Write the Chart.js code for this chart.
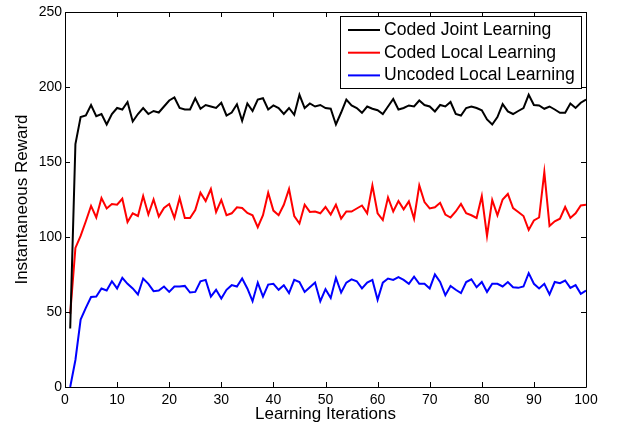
<!DOCTYPE html>
<html>
<head>
<meta charset="utf-8">
<script src="https://cdn.jsdelivr.net/npm/chart.js@4.4.1/dist/chart.umd.min.js"></script>
<style>
html,body{margin:0;padding:0;background:#fff;}
#wrap{width:621px;height:428px;}
</style>
</head>
<body>
<div id="wrap"><canvas id="c" width="621" height="428"></canvas></div>
<script>
const iterations = [1,2,3,4,5,6,7,8,9,10,11,12,13,14,15,16,17,18,19,20,21,22,23,24,25,26,27,28,29,30,31,32,33,34,35,36,37,38,39,40,41,42,43,44,45,46,47,48,49,50,51,52,53,54,55,56,57,58,59,60,61,62,63,64,65,66,67,68,69,70,71,72,73,74,75,76,77,78,79,80,81,82,83,84,85,86,87,88,89,90,91,92,93,94,95,96,97,98,99,100];

const codedJoint = [39,162,180,181,188,180.5,182,175,182,186,185,190,177,182,186,182,184,183,187,191,193,186,185,185,192.5,185.5,188,187,186,189.5,181,183,188.5,177.5,189,184,191.6,192.5,185,187.7,186,182,186,181.5,194.8,186,189,187,188,186,185.5,175,183,191.6,187.7,186,182.8,187,185.5,184.5,182,187,192,185,186,187.7,187,191,188,187,183.7,188,187,190,182,181,186,187,186,184.5,178.4,175,180,188.6,183.7,182,184,186,194.8,188,187.7,185.5,187,185,182.8,182.8,189,186,189.5,191.6];

const codedLocal = [48.8,92.7,100.7,110.5,120.7,113,126,119,122,121.5,125.5,110,115.8,114,127.3,115,125,113.6,119.3,122,112.7,126,112.7,112.7,118,129.5,124,132,116.7,124.7,114.5,115.8,119.8,119.3,116,114.5,106.5,114.5,129.5,117.6,114.5,121.5,132,114,109,121.5,116.7,117,115.8,120,115,121.5,112.2,117,117,119,121,115.8,134.4,115.8,111.3,126.4,117,124,118.4,123.7,112.2,134.4,123.3,119,119.8,122.8,115,113,117,122,115.8,114.5,112.7,127.3,100.7,124.7,114.5,125,128.7,119.3,116.7,114,104.7,111,113,143.3,107.4,110.5,112.2,120,112.7,115.8,121,121.5];

const uncodedLocal = [0,18,45,52.8,60,60.3,65.7,64.3,70.5,65.7,72.8,68.8,65.7,61.7,72.3,68.8,63.9,64.3,67,63.4,67,67,67.4,63,63.4,70.5,71.4,60.3,64.8,59,64.8,67.9,67,72.3,65.7,57.2,69.6,60.3,68.3,68.8,64.8,67.9,62.6,71.4,70,63.4,66.5,69.6,57.2,65.2,59.4,72.8,63,69.6,71.8,70.5,65.7,69.6,71.4,58.1,69.6,72.3,71.4,73.2,71.4,68.8,73.6,68.8,68.8,65.7,75,70,61.2,67.4,64.8,62.6,70,71.8,66.5,70,63.4,68.8,68.8,67,70,66.5,66.1,67,75.9,68.8,65.7,68.8,61.7,70,69.2,71,66.1,67.9,62.1,64.3];

const seriesNames = ['Coded Joint Learning','Coded Local Learning','Uncoded Local Learning'];
const seriesColors = ['#000000','#ff0000','#0000ff'];
const xTicks = [0,10,20,30,40,50,60,70,80,90,100];
const yTicks = [0,50,100,150,200,250];

const FONT = "'Liberation Sans', Arial, Helvetica, sans-serif";

function toPoints(vals){ return vals.map((v,i)=>({x: iterations[i], y: v})); }

const seriesValues = [codedJoint, codedLocal, uncodedLocal];
const datasets = seriesValues.map((vals,i)=>({
  label: seriesNames[i],
  data: toPoints(vals),
  borderColor: seriesColors[i],
  backgroundColor: seriesColors[i],
  borderWidth: 2,
  pointRadius: 0,
  tension: 0,
  fill: false
}));

const frameAndLegend = {
  id: 'frameAndLegend',
  afterDatasetsDraw(chart){
    const ctx = chart.ctx;
    const a = chart.chartArea;
    const xs = chart.scales.x, ys = chart.scales.y;
    ctx.save();
    ctx.strokeStyle = '#000';
    ctx.lineWidth = 1;
    ctx.beginPath();
    ctx.rect(Math.round(a.left)+0.5, Math.round(a.top)+0.5, Math.round(a.right-a.left), Math.round(a.bottom-a.top));
    ctx.stroke();
    const tl = 5;
    ctx.beginPath();
    xTicks.forEach(t=>{
      const px = Math.round(xs.getPixelForValue(t))+0.5;
      ctx.moveTo(px, a.bottom); ctx.lineTo(px, a.bottom - tl);
      ctx.moveTo(px, a.top); ctx.lineTo(px, a.top + tl);
    });
    yTicks.forEach(t=>{
      const py = Math.round(ys.getPixelForValue(t))+0.5;
      ctx.moveTo(a.left, py); ctx.lineTo(a.left + tl, py);
      ctx.moveTo(a.right, py); ctx.lineTo(a.right - tl, py);
    });
    ctx.stroke();

    // legend box
    const bx = 340.5, by = 16.5, bw = 241, bh = 72;
    ctx.fillStyle = '#fff';
    ctx.fillRect(bx, by, bw, bh);
    ctx.strokeStyle = '#000';
    ctx.lineWidth = 1;
    ctx.strokeRect(bx, by, bw, bh);
    const rows = [30, 52.7, 75.4];
    ctx.font = "17.6px " + FONT;
    ctx.textBaseline = 'middle';
    ctx.textAlign = 'left';
    chart.data.datasets.forEach((ds,i)=>{
      ctx.strokeStyle = ds.borderColor;
      ctx.lineWidth = 2;
      ctx.beginPath();
      ctx.moveTo(348, rows[i]); ctx.lineTo(380, rows[i]);
      ctx.stroke();
      ctx.fillStyle = '#000';
      ctx.fillText(ds.label, 384, rows[i]);
    });
    ctx.restore();
  }
};

new Chart(document.getElementById('c'), {
  type: 'line',
  data: { datasets },
  options: {
    responsive: false,
    animation: false,
    devicePixelRatio: 1,
    layout: { padding: { left: 0, top: 12, right: 35, bottom: 0 } },
    plugins: { legend: { display: false }, tooltip: { enabled: false } },
    scales: {
      x: {
        type: 'linear',
        min: 0, max: 100,
        afterBuildTicks(scale){ scale.ticks = xTicks.map(v=>({value:v})); },
        afterFit(scale){ scale.height = 41; },
        grid: { display: false, drawTicks: false },
        border: { display: false },
        ticks: { color: '#000', padding: 5, font: { family: FONT, size: 14 }, maxRotation: 0, autoSkip: false },
        title: { display: true, text: 'Learning Iterations', color: '#000', font: { family: FONT, size: 17 }, padding: { top: 0, bottom: 3 } }
      },
      y: {
        type: 'linear',
        min: 0, max: 250,
        afterBuildTicks(scale){ scale.ticks = yTicks.map(v=>({value:v})); },
        afterFit(scale){ scale.width = 65; },
        grid: { display: false, drawTicks: false },
        border: { display: false },
        ticks: { color: '#000', padding: 3, font: { family: FONT, size: 14 }, autoSkip: false },
        title: { display: true, text: 'Instantaneous Reward', color: '#000', font: { family: FONT, size: 17 }, padding: { top: 12, bottom: 0 } }
      }
    }
  },
  plugins: [frameAndLegend]
});
</script>
</body>
</html>
